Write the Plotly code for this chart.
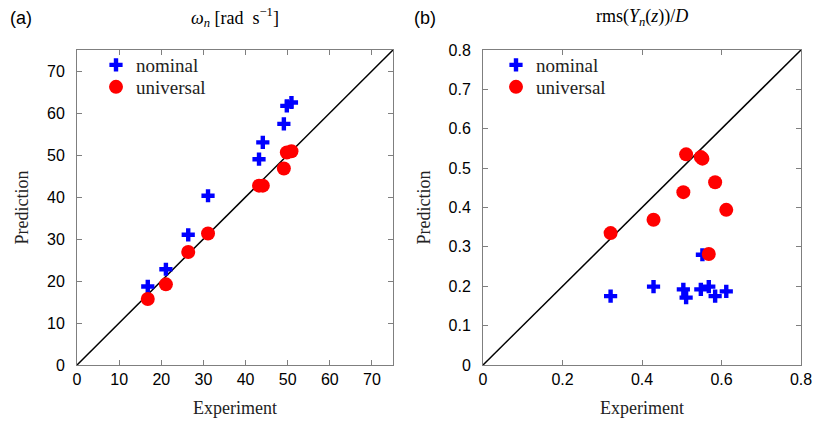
import plotly.graph_objects as go

# Panel (a): natural frequency omega_n [rad/s]
a_exp = [16.8, 21.1, 26.4, 31.1, 43.2, 44.1, 49.1, 49.8, 50.9]
a_nom = [18.7, 22.8, 31.0, 40.3, 49.0, 53.0, 57.4, 61.7, 62.5]
a_uni = [15.7, 19.2, 26.9, 31.3, 42.7, 42.7, 46.8, 50.6, 50.9]

# Panel (b): rms(Y_n(z))/D
b_exp = [0.321, 0.429, 0.504, 0.511, 0.548, 0.552, 0.584, 0.612, 0.568]
b_nom = [0.175, 0.199, 0.192, 0.171, 0.192, 0.280, 0.175, 0.187, 0.199]
b_uni = [0.335, 0.369, 0.439, 0.535, 0.528, 0.524, 0.464, 0.394, 0.282]

a_range = [0, 75]
b_range = [0, 0.8]
a_ticks = [0, 10, 20, 30, 40, 50, 60, 70]
b_xticks = [0, 0.2, 0.4, 0.6, 0.8]
b_xlabels = ["0", "0.2", "0.4", "0.6", "0.8"]
b_yticks = [0, 0.1, 0.2, 0.3, 0.4, 0.5, 0.6, 0.7, 0.8]
b_ylabels = ["0", "0.1", "0.2", "0.3", "0.4", "0.5", "0.6", "0.7", "0.8"]

BLUE = "#0000FF"
RED = "#FF0000"
SERIF = "Liberation Serif, Times New Roman, serif"
SANS = "Liberation Sans, Arial, sans-serif"

fig = go.Figure()

# diagonal lines
fig.add_trace(go.Scatter(x=a_range, y=a_range, mode="lines", line=dict(color="black", width=1.5),
                         showlegend=False, xaxis="x", yaxis="y", hoverinfo="skip"))
fig.add_trace(go.Scatter(x=b_range, y=b_range, mode="lines", line=dict(color="black", width=1.5),
                         showlegend=False, xaxis="x2", yaxis="y2", hoverinfo="skip"))

cross = dict(symbol="cross", size=11, color=BLUE)
circ = dict(symbol="circle", size=14, color=RED)

fig.add_trace(go.Scatter(x=a_exp, y=a_nom, mode="markers", name="nominal", marker=cross,
                         xaxis="x", yaxis="y", legend="legend"))
fig.add_trace(go.Scatter(x=a_exp, y=a_uni, mode="markers", name="universal", marker=circ,
                         xaxis="x", yaxis="y", legend="legend2"))
fig.add_trace(go.Scatter(x=b_exp, y=b_nom, mode="markers", name="nominal", marker=cross,
                         xaxis="x2", yaxis="y2", legend="legend3"))
fig.add_trace(go.Scatter(x=b_exp, y=b_uni, mode="markers", name="universal", marker=circ,
                         xaxis="x2", yaxis="y2", legend="legend4"))

W, H = 813, 430
ax_common = dict(showline=True, linecolor="#7f7f7f", linewidth=1, mirror="ticks", automargin=False,
                 ticks="inside", ticklen=5, tickcolor="#7f7f7f", showgrid=False, zeroline=False,
                 tickfont=dict(family=SANS, size=16, color="black"))
ydom = [1 - 365 / H, 1 - 50 / H]
tfont = dict(family=SERIF, size=18, color="#222")


def leg(xp, yp):
    return dict(x=xp / W, y=1 - yp / H, xanchor="left", yanchor="middle", bgcolor="rgba(0,0,0,0)",
                font=dict(family=SERIF, size=19, color="#222"), itemwidth=30,
                borderwidth=0)


fig.update_layout(
    width=W, height=H, margin=dict(l=0, r=0, t=0, b=0),
    paper_bgcolor="white", plot_bgcolor="white",
    xaxis=dict(domain=[77 / W, 393 / W], range=a_range, tickvals=a_ticks, anchor="y",
               title=dict(text="Experiment", font=tfont, standoff=14), **ax_common),
    yaxis=dict(domain=ydom, range=a_range, tickvals=a_ticks, anchor="x", ticklabelstandoff=8,
               title=dict(text="Prediction", font=tfont, standoff=13), **ax_common),
    xaxis2=dict(domain=[483 / W, 801 / W], range=b_range, tickvals=b_xticks, ticktext=b_xlabels,
                anchor="y2", title=dict(text="Experiment", font=tfont, standoff=14), **ax_common),
    yaxis2=dict(domain=ydom, range=b_range, tickvals=b_yticks, ticktext=b_ylabels, anchor="x2",
                ticklabelstandoff=8, title=dict(text="Prediction", font=tfont, standoff=13),
                **ax_common),
    legend=leg(96, 65),
    legend2=leg(96, 87),
    legend3=leg(496, 65),
    legend4=leg(496, 87),
    annotations=[
        dict(text="(a)", x=8 / W, y=1 - 18 / H, xref="paper", yref="paper", xanchor="left",
             yanchor="middle", showarrow=False, font=dict(family=SANS, size=18, color="black")),
        dict(text="(b)", x=412 / W, y=1 - 18 / H, xref="paper", yref="paper", xanchor="left",
             yanchor="middle", showarrow=False, font=dict(family=SANS, size=18, color="black")),
        dict(text="<i>ω</i><sub><i>n</i></sub> [rad  s<sup>−1</sup>]", x=235 / W, y=1 - 18 / H,
             xref="paper", yref="paper", xanchor="center", yanchor="middle", showarrow=False,
             font=dict(family=SERIF, size=18, color="black")),
        dict(text="rms(<i>Y</i><sub><i>n</i></sub>(<i>z</i>))/<i>D</i>", x=642 / W, y=1 - 18 / H,
             xref="paper", yref="paper", xanchor="center", yanchor="middle", showarrow=False,
             font=dict(family=SERIF, size=18, color="black")),
    ],
)

fig.write_html("out.html")
